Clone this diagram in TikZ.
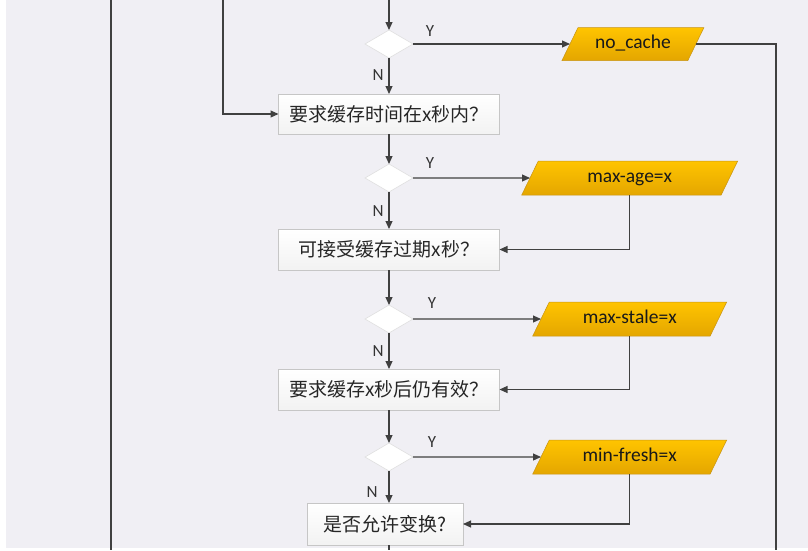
\documentclass[tikz,border=0pt]{standalone}
\usepackage{fontspec}
\setmainfont{Carlito}
\newfontfamily\cjk{Noto Sans CJK SC}
\usetikzlibrary{shapes.geometric,arrows.meta,positioning,calc}
\definecolor{bgcol}{RGB}{240,239,244}
\definecolor{linecol}{RGB}{64,64,64}
\definecolor{goldtop}{RGB}{255,196,0}
\definecolor{goldbot}{RGB}{228,166,0}
\definecolor{goldline}{RGB}{200,148,20}

\begin{document}
\begin{tikzpicture}[
  x=1pt,y=1pt,
  node distance=30pt,
  box/.style={rectangle,draw=gray!45,line width=0.6pt,top color=white,bottom color=gray!10,
    minimum width=221pt,minimum height=40pt,inner sep=0pt,outer sep=0pt,
    text=black!85,font=\cjk\fontsize{19}{22}\selectfont},
  dec/.style={diamond,draw=gray!25,line width=0.6pt,fill=white,
    minimum width=48pt,minimum height=28pt,inner sep=0pt,outer sep=0pt},
  io/.style={trapezium,trapezium left angle=64,trapezium right angle=116,
    trapezium stretches body,draw=goldline,line width=0.5pt,
    top color=goldtop,bottom color=goldbot,text height=12pt,text depth=4pt,
    inner xsep=0pt,inner ysep=9pt,outer sep=0pt,text=black!90,
    font=\fontsize{19.5}{22}\selectfont},
  lbl/.style={font=\fontsize{17}{19}\selectfont,text=black!80,inner sep=0pt},
  conn/.style={draw=linecol,line width=1.1pt},
  arr/.style={conn,-{Triangle[length=8pt,width=7pt]}}
]
% canvas
\fill[white] (0,0) rectangle (808,-550);
\fill[bgcol] (6,0) rectangle (808,-548);
\useasboundingbox (0,0) rectangle (808,-550);

% main column
\node[dec] (d1) at (389,-44) {};
\node[box,below=36pt of d1] (b1) {要求缓存时间在x秒内？};
\node[dec,below=30pt of b1] (d2) {};
\node[box,below=37pt of d2,minimum height=41pt] (b2) {可接受缓存过期x秒？};
\node[dec,below=35pt of b2] (d3) {};
\node[box,below=36pt of d3,minimum height=41pt] (b3) {要求缓存x秒后仍有效？};
\node[dec,below=33pt of b3] (d4) {};
\node[box,below=32pt of d4,xshift=-4pt,minimum width=156pt,minimum height=42pt] (b4) {是否允许变换?};

% directives
\node[io,right=157pt of d1,minimum width=142pt,inner ysep=8.5pt] (nc) {no\_cache};
\node[io,right=117pt of d2,minimum width=216pt] (ma) {max-age=x};
\node[io,right=128pt of d3,minimum width=194pt] (ms) {max-stale=x};
\node[io,right=128pt of d4,minimum width=194pt] (mf) {min-fresh=x};

% Y / N
\node[lbl] (y1) at ([xshift=17pt,yshift=13pt]d1.east) {Y};
\node[lbl] (y2) at ([xshift=17pt,yshift=15pt]d2.east) {Y};
\node[lbl] (y3) at ([xshift=19pt,yshift=16pt]d3.east) {Y};
\node[lbl] (y4) at ([xshift=19pt,yshift=15pt]d4.east) {Y};
\node[lbl] (n1) at ([xshift=-11pt,yshift=-17pt]d1.south) {N};
\node[lbl] (n2) at ([xshift=-11pt,yshift=-19pt]d2.south) {N};
\node[lbl] (n3) at ([xshift=-11pt,yshift=-18pt]d3.south) {N};
\node[lbl] (n4) at ([xshift=-17pt,yshift=-21pt]d4.south) {N};

% loose ends
\coordinate (top) at (389,0);
\coordinate (lft) at (223,0);
\coordinate (far) at (111,0);
\coordinate (farb) at (111,-550);
\coordinate (rgt) at (776,-550);
\coordinate (bot) at (389,-550);

\draw[conn] (far) -- (farb);
\draw[arr] (lft) |- (b1);
\draw[arr] (top) -- (d1);
\draw[arr] (d1) -- (nc);
\draw[conn] (nc.east) -| (rgt);
\draw[arr] (d1) -- (b1);
\draw[arr] (b1) -- (d2);
\draw[arr] (d2) -- (ma);
\draw[arr] (ma.south) |- (b2.east);
\draw[arr] (d2) -- (b2);
\draw[arr] (b2) -- (d3);
\draw[arr] (d3) -- (ms);
\draw[arr] (ms.south) |- (b3.east);
\draw[arr] (d3) -- (b3);
\draw[arr] (b3) -- (d4);
\draw[arr] (d4) -- (mf);
\draw[arr] (mf.south) |- (b4.east);
\draw[arr] (d4) -- (d4 |- b4.north);
\draw[conn] (d4 |- b4.south) -- (bot);
\end{tikzpicture}
\end{document}
